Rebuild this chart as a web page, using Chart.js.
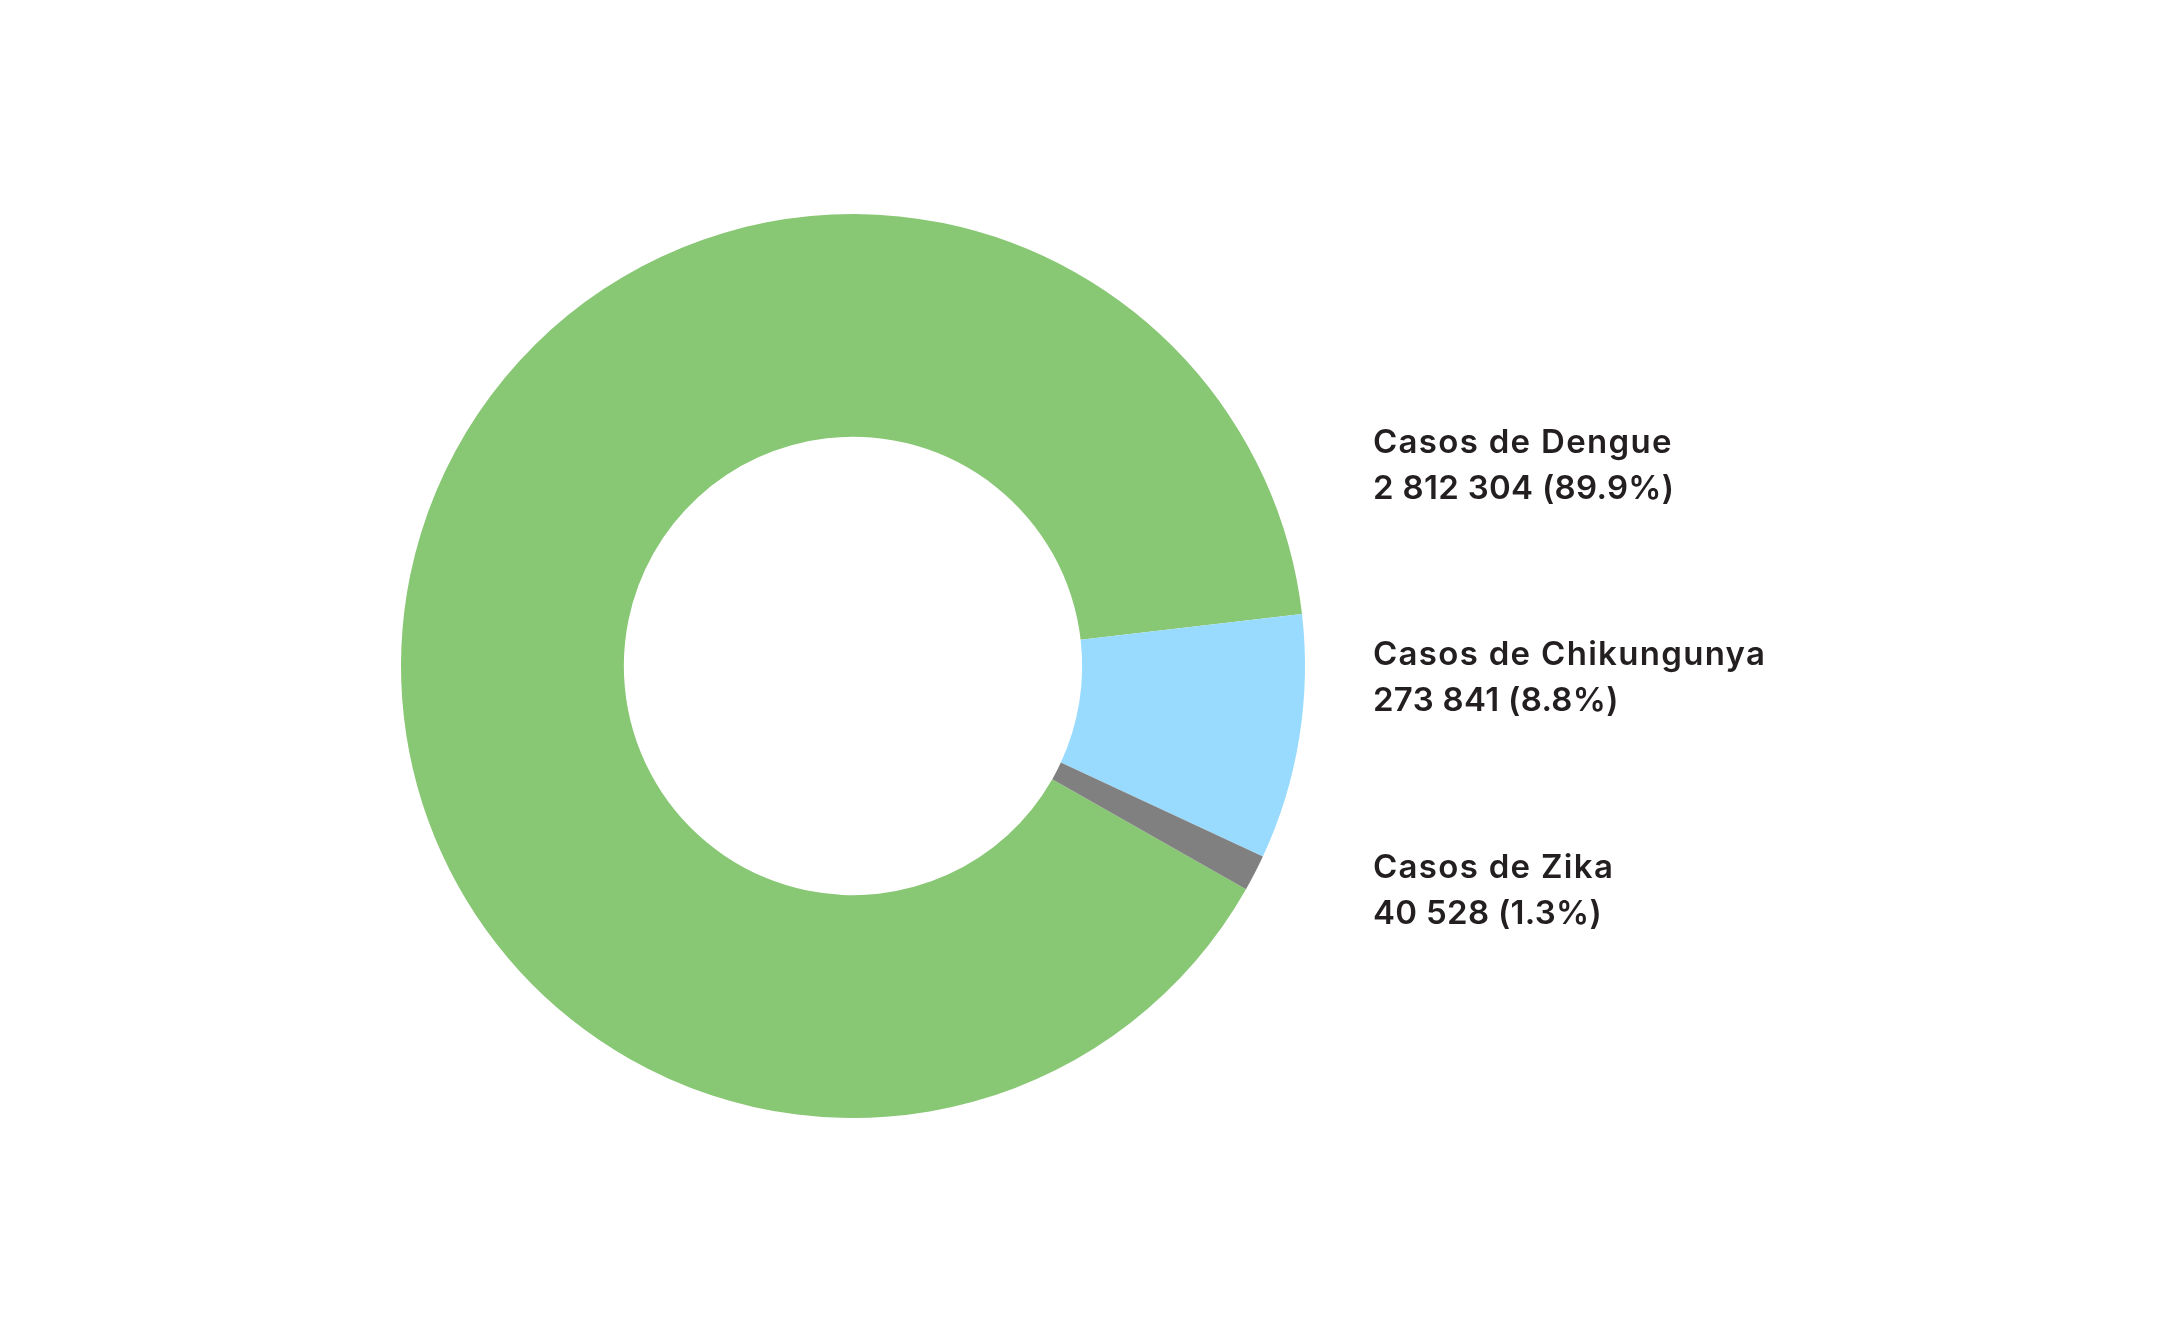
<!DOCTYPE html>
<html>
<head>
<meta charset="utf-8">
<script src="https://cdn.jsdelivr.net/npm/chart.js@4/dist/chart.umd.min.js"></script>
<style>
  html, body { margin: 0; padding: 0; background: #fff; }
  .wrap { position: relative; width: 2167px; height: 1334px; }
  #chart { position: absolute; left: 0; top: 0; }
  .lbl {
    position: absolute; left: 1373px;
    font-family: Inter, "Open Sans", sans-serif; font-weight: 600;
    font-size: 33px; line-height: 46px; color: #231f20;
    white-space: nowrap;
  }
  .lbl .name { letter-spacing: 1.3px; }
  .lbl .num { letter-spacing: 0.3px; }
</style>
</head>
<body>
<div class="wrap">
  <canvas id="chart" width="2167" height="1334"></canvas>
  <div id="labels"></div>
</div>
<script>
// Data
const categories = ['Casos de Dengue', 'Casos de Chikungunya', 'Casos de Zika'];
const cases = [2812304, 273841, 40528];
const shares = ['89.9%', '8.8%', '1.3%'];
const colors = ['#88c774', '#99dbfe', '#808080'];

// Labels on the right
const labelTops = [418, 630, 843];
const box = document.getElementById('labels');
categories.forEach(function (name, i) {
    const d = document.createElement('div');
    d.className = 'lbl';
    d.style.top = labelTops[i] + 'px';
    const num = cases[i].toLocaleString('en-US').replace(/,/g, ' ');
    d.innerHTML = '<span class="name">' + name + '</span><br><span class="num">' +
        num + ' (' + shares[i] + ')</span>';
    box.appendChild(d);
});

// Donut
const ctx = document.getElementById('chart').getContext('2d');
new Chart(ctx, {
    type: 'doughnut',
    data: {
        labels: categories,
        datasets: [{
            data: cases,
            backgroundColor: colors,
            borderWidth: 0
        }]
    },
    options: {
        responsive: false,
        animation: false,
        rotation: 119.6,
        cutout: '50.7%',
        layout: { padding: { left: 401, right: 862, top: 214, bottom: 216 } },
        plugins: {
            legend: { display: false },
            tooltip: { enabled: false }
        }
    }
});
</script>
</body>
</html>
